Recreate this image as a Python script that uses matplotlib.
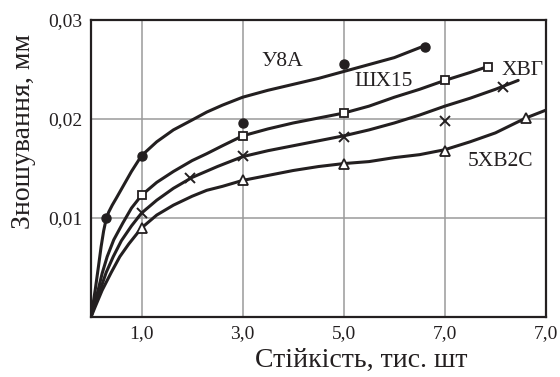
import matplotlib
matplotlib.use("Agg")
import matplotlib.pyplot as plt

plt.rcParams['font.family'] = ['Liberation Serif', 'DejaVu Serif']

# мітки осей
x_ticks = [1, 3, 5, 7, 9]
x_tick_labels = ["1,0", "3,0", "5,0", "7,0", "7,0"]
y_ticks = [0.01, 0.02, 0.03]
y_tick_labels = ["0,01", "0,02", "0,03"]

# експериментальні точки
u8a_x = [0.3, 1.0, 3.0, 5.0, 6.6]
u8a_y = [0.0100, 0.0163, 0.0196, 0.0256, 0.0273]
shx15_x = [1.0, 3.0, 5.0, 7.0, 7.85]
shx15_y = [0.0123, 0.0183, 0.0206, 0.0239, 0.0253]
xvg_x = [1.0, 1.95, 3.0, 5.0, 7.0, 8.15]
xvg_y = [0.0105, 0.0140, 0.0163, 0.0182, 0.0198, 0.0232]
xv2s_x = [1.0, 3.0, 5.0, 7.0, 8.6]
xv2s_y = [0.0090, 0.0138, 0.0155, 0.0168, 0.0201]

# апроксимуючі криві
u8a_cx = [0, 0.04, 0.085, 0.15, 0.2, 0.25, 0.3, 0.35, 0.42, 0.5, 0.6, 0.8, 1.0,
          1.3, 1.63, 2.0, 2.29, 2.6, 3.0, 3.5, 4.0, 4.5, 5.0, 5.5, 6.0, 6.6]
u8a_cy = [0, 0.0013, 0.0028, 0.0052, 0.0071, 0.0087, 0.0099, 0.0106, 0.0113,
          0.0120, 0.0129, 0.0147, 0.0163, 0.0177, 0.0189, 0.0199, 0.0207, 0.0214,
          0.0222, 0.0229, 0.0235, 0.0241, 0.0248, 0.0255, 0.0262, 0.0274]
shx15_cx = [0, 0.05, 0.14, 0.22, 0.32, 0.45, 0.63, 0.8, 1.0, 1.3, 1.63, 2.0, 2.29,
            2.6, 3.0, 3.5, 4.0, 4.5, 5.0, 5.5, 6.0, 6.5, 7.0, 7.5, 7.85]
shx15_cy = [0, 0.0011, 0.0027, 0.0044, 0.0061, 0.0078, 0.0095, 0.0110, 0.0123,
            0.0136, 0.0147, 0.0158, 0.0165, 0.0173, 0.0183, 0.0190, 0.0196, 0.0201,
            0.0206, 0.0213, 0.0222, 0.0230, 0.0239, 0.0247, 0.0253]
xvg_cx = [0, 0.06, 0.18, 0.3, 0.44, 0.6, 0.8, 1.0, 1.3, 1.63, 2.0, 2.5, 3.0, 3.5,
          4.0, 4.5, 5.0, 5.5, 6.0, 6.5, 7.0, 7.5, 8.0, 8.45]
xvg_cy = [0, 0.0010, 0.0027, 0.0045, 0.0061, 0.0077, 0.0092, 0.0105, 0.0118,
          0.0130, 0.0141, 0.0152, 0.0162, 0.0168, 0.0173, 0.0178, 0.0183, 0.0189,
          0.0196, 0.0204, 0.0213, 0.0221, 0.0230, 0.0239]
xv2s_cx = [0, 0.08, 0.22, 0.4, 0.57, 0.75, 1.0, 1.3, 1.63, 2.0, 2.29, 2.6, 3.0,
           3.5, 4.0, 4.5, 5.0, 5.5, 6.0, 6.5, 7.0, 7.5, 8.0, 8.6, 9.0]
xv2s_cy = [0, 0.0010, 0.0027, 0.0045, 0.0061, 0.0074, 0.0090, 0.0103, 0.0113,
           0.0122, 0.0128, 0.0132, 0.0138, 0.0143, 0.0148, 0.0152, 0.0155, 0.0157,
           0.0161, 0.0164, 0.0169, 0.0177, 0.0186, 0.0201, 0.0209]

ink = '#231f20'

fig = plt.figure(figsize=(5.6, 3.77), dpi=100)
ax = fig.add_axes([0.1625, 0.159, 0.8125, 0.788])

lw = 2.2
for cx, cy in [(u8a_cx, u8a_cy), (shx15_cx, shx15_cy),
               (xvg_cx, xvg_cy), (xv2s_cx, xv2s_cy)]:
    ax.plot(cx, cy, color=ink, lw=lw, solid_capstyle='round',
            solid_joinstyle='round', zorder=3)

ax.plot(u8a_x, u8a_y, 'o', color=ink, ms=6.5, zorder=4)
ax.plot(shx15_x, shx15_y, 's', mfc='white', mec=ink, mew=1.3, ms=5.5, zorder=4)
ax.plot(xvg_x, xvg_y, 'x', color=ink, mew=1.4, ms=7, zorder=4)
ax.plot(xv2s_x, xv2s_y, '^', mfc='white', mec=ink, mew=1.3, ms=7.5, zorder=4)

ax.text(3.79, 0.0258, "У8А", fontsize=15.5, ha='center', va='center', color=ink)
ax.text(5.78, 0.0238, "ШХ15", fontsize=15.5, ha='center', va='center', color=ink)
ax.text(8.53, 0.0249, "ХВГ", fontsize=15.5, ha='center', va='center', color=ink)
ax.text(8.10, 0.0157, "5ХВ2С", fontsize=15.5, ha='center', va='center', color=ink)

ax.set_xlim(0, 9)
ax.set_ylim(0, 0.03)
ax.set_xticks(x_ticks)
ax.set_xticklabels(x_tick_labels)
ax.set_yticks(y_ticks)
ax.set_yticklabels(y_tick_labels)
ax.tick_params(length=0, labelsize=14, colors=ink)
ax.tick_params(axis='x', pad=6)
ax.tick_params(axis='y', pad=6)
ax.grid(True, color='#9a9a9a', lw=1.1)
ax.set_axisbelow(True)
for s in ax.spines.values():
    s.set_linewidth(1.6)
    s.set_color(ink)

ax.set_xlabel("Стійкість, тис. шт", fontsize=20, color=ink)
ax.xaxis.set_label_coords(0.593, -0.168)
ax.xaxis.label.set_verticalalignment('baseline')
ax.set_ylabel("Зношування, мм", fontsize=20, color=ink)
ax.yaxis.set_label_coords(-0.149, 0.625)
ax.yaxis.label.set_verticalalignment('center')

fig.savefig("out.png", dpi=100)
